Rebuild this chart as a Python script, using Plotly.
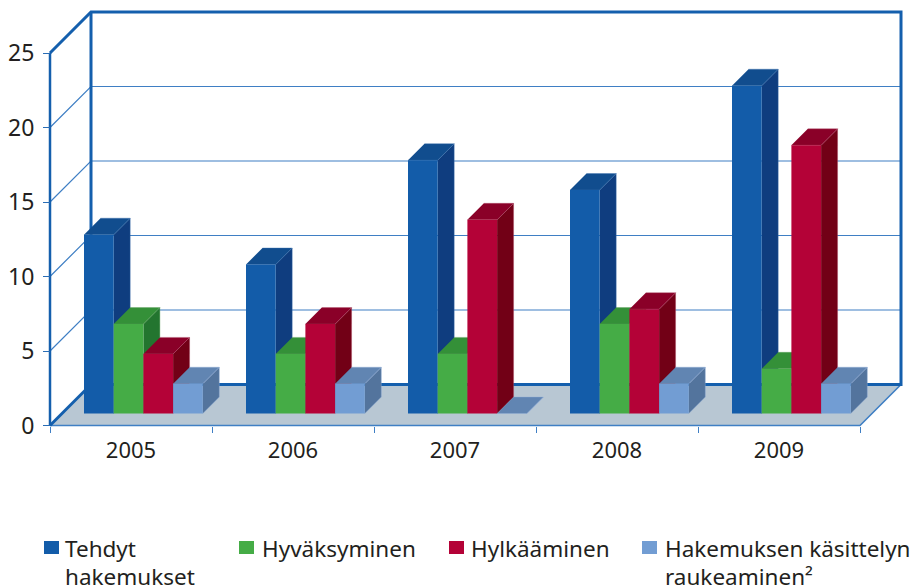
import plotly.graph_objects as go

# ---- data -------------------------------------------------------------
years = ["2005", "2006", "2007", "2008", "2009"]
tehdyt = [12, 10, 17, 15, 22]
hyvaksyminen = [6, 4, 4, 6, 3]
hylkaaminen = [4, 6, 13, 7, 18]
raukeaminen = [2, 2, 0, 2, 2]
series_names = ["Tehdyt hakemukset", "Hyväksyminen", "Hylkääminen",
                "Hakemuksen käsittelyn raukeaminen²"]
legend_lines = [["Tehdyt", "hakemukset"], ["Hyväksyminen"], ["Hylkääminen"],
                ["Hakemuksen käsittelyn", "raukeaminen²"]]
y_ticks = [0, 5, 10, 15, 20, 25]

# ---- styles: front, top, side ------------------------------------------
palette = [("#135CA9", "#114D8E", "#0F3D7F"),
           ("#45AC46", "#349038", "#23752F"),
           ("#B40237", "#8A0028", "#720016"),
           ("#729DD3", "#6185B2", "#53749D")]
edge = ["#3F74B0", "#5FA060", "#B0506C", "#8FAFD8"]
W, H = 910, 586
L, R, T, B = 50, 860, 53, 425.5
PX = (R - L) / len(years)          # pixels per category
PY = (B - T) / 25                  # pixels per value unit
WALL_D = 41                        # depth of the chart box, px
BAR_D0, BAR_D = 12, 16.5           # bar depth start / length, px
GAP, BAR_W = 22 / PX, 29.7 / PX
TOP = y_ticks[-1]

def pr(x, v, d=0):
    """oblique projection: category position, value, depth in px -> data coords"""
    return x + d / PX, v + d / PY

def poly(pts, color, line=None, lw=0, name=None, fill=True, hover="skip"):
    xs, ys = zip(*pts)
    fig.add_trace(go.Scatter(
        x=list(xs), y=list(ys), mode="lines",
        fill="toself" if fill else "none", fillcolor=color if fill else None,
        line=dict(color=line or color or "#000", width=lw), showlegend=False,
        hoverinfo=hover, name=name))

fig = go.Figure()
n = len(years)
GRID, FRAME = "#3F7FC4", "#145FAD"

# floor
poly([pr(0, 0), pr(n, 0), pr(n, 0, WALL_D), pr(0, 0, WALL_D)], "#B8C7D3")
# gridlines on back wall and side wall
for t in y_ticks[1:-1]:
    poly([pr(0, t), pr(0, t, WALL_D), pr(n, t, WALL_D)], "", line=GRID, lw=1.2, fill=False)
# floor edges
poly([pr(0, 0), pr(n, 0), pr(n, 0, WALL_D)], "", line=GRID, lw=1.6, fill=False)
# walls frame
poly([pr(0, TOP), pr(0, TOP, WALL_D), pr(n, TOP, WALL_D), pr(n, 0, WALL_D), pr(0, 0, WALL_D)],
     "", line=FRAME, lw=3, fill=False)
poly([pr(0, TOP, WALL_D), pr(0, 0, WALL_D), pr(0, 0)], "", line=FRAME, lw=3, fill=False)
poly([pr(0, TOP), pr(0, 0)], "", line=FRAME, lw=2.5, fill=False)

# bars: the base sits on the floor, BAR_D0 px behind the front edge
def P(x, val, d):
    xx, yy = pr(x, val, d)
    return xx - BAR_D0 / PX, yy

all_series = [tehdyt, hyvaksyminen, hylkaaminen, raukeaminen]
for c in range(n):
    for k, values in enumerate(all_series):
        v = values[c]
        x0 = c + GAP + k * BAR_W + BAR_D0 / PX
        x1 = x0 + BAR_W
        d0, d1 = BAR_D0, BAR_D0 + BAR_D
        front, top, side = palette[k]
        poly([P(x1, 0, d0), P(x1, 0, d1), P(x1, v, d1), P(x1, v, d0)], side, line=edge[k], lw=0.4)
        poly([P(x0, v, d0), P(x1, v, d0), P(x1, v, d1), P(x0, v, d1)], top, line=edge[k], lw=0.4)
        poly([P(x0, 0, d0), P(x1, 0, d0), P(x1, v, d0), P(x0, v, d0)], front,
             name=series_names[k], hover="y+name")

fig.update_layout(
    width=W, height=H, margin=dict(l=0, r=0, t=0, b=0, pad=0),
    autosize=False, paper_bgcolor="white", plot_bgcolor="rgba(0,0,0,0)",
    font=dict(family="Noto Sans", color="#231F20"), showlegend=False,
    xaxis=dict(range=[-L / PX, (W - L) / PX], domain=[0, 1], anchor="free",
               position=(H - B) / H, tickmode="array",
               tickvals=[i + 0.5 for i in range(n)], ticktext=years,
               ticks="", showgrid=False, zeroline=False, showline=False,
               tickfont=dict(size=22), ticklabelstandoff=9,
               minor=dict(tickmode="array", tickvals=list(range(n + 1)), ticks="outside",
                          ticklen=6, tickcolor=GRID, tickwidth=1, showgrid=False),
               fixedrange=True),
    yaxis=dict(range=[-(H - B) / PY, B / PY], domain=[0, 1], anchor="free",
               position=L / W, tickmode="array", tickvals=y_ticks,
               ticks="outside", ticklen=7, tickcolor="#2A6DB5", tickwidth=1,
               showgrid=False, zeroline=False, showline=False, ticklabelstandoff=4,
               tickfont=dict(size=23), fixedrange=True),
)

# legend
legend_x = [44, 239, 449, 642]
legend_text_x = [64, 261, 470, 664]
line_y = [548, 576]
for lines, (front, _, _), lx, tx in zip(legend_lines, palette, legend_x, legend_text_x):
    fig.add_shape(type="rect", xref="paper", yref="paper",
                  x0=lx / W, x1=(lx + 15) / W,
                  y0=(H - 554) / H, y1=(H - 541) / H,
                  fillcolor=front, line_width=0)
    for text, ly in zip(lines, line_y):
        fig.add_annotation(text=text, xref="paper", yref="paper", align="left",
                           x=tx / W, y=(H - ly) / H,
                           xanchor="left", yanchor="middle", showarrow=False, borderpad=0,
                           font=dict(size=22.5, color="#231F20"))

fig.write_html("out.html", post_script="document.body.style.margin='0';",
               config={"displayModeBar": False})
